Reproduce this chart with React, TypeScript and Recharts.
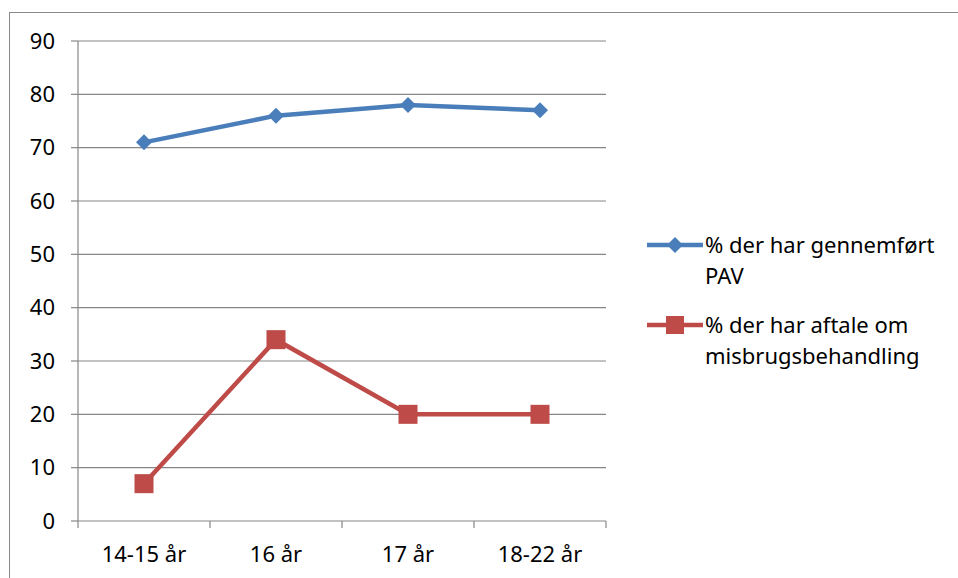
import { LineChart, Line, XAxis, YAxis, CartesianGrid } from "recharts"

const categories = ["14-15 år", "16 år", "17 år", "18-22 år"]
const pavValues = [71, 76, 78, 77]
const behandlingValues = [7, 34, 20, 20]
const yTicks = [0, 10, 20, 30, 40, 50, 60, 70, 80, 90]
const boundaryTicks = [0, 1, 2, 3, 4]

const BLUE = "#4A7EBB"
const RED = "#BE4B48"
const GRID = "#868686"
const FONT = "'Noto Sans', sans-serif"

const data = categories.map((cat, i) => ({
  cat,
  idx: i + 0.5,
  pav: pavValues[i],
  behandling: behandlingValues[i],
}))

const legendItems = [
  { key: "pav", lines: ["% der har gennemført", "PAV"], color: BLUE, shape: "diamond" },
  { key: "behandling", lines: ["% der har aftale om", "misbrugsbehandling"], color: RED, shape: "square" },
]

function Diamond(props: any) {
  const { cx, cy } = props
  if (cx == null || cy == null) return null
  const r = 8
  return (
    <path
      d={`M${cx},${cy - r} L${cx + r},${cy} L${cx},${cy + r} L${cx - r},${cy} Z`}
      fill={BLUE}
    />
  )
}

function Square(props: any) {
  const { cx, cy } = props
  if (cx == null || cy == null) return null
  const s = 19
  return <rect x={cx - s / 2} y={cy - s / 2} width={s} height={s} fill={RED} />
}

function EmptyTick() {
  return <g />
}

function LegendBox() {
  return (
    <div style={{ fontFamily: FONT, fontSize: "22px", color: "#000" }}>
      {legendItems.map((item) => (
        <div key={item.key} style={{ display: "flex", alignItems: "flex-start", marginBottom: "19px" }}>
          <svg width={60} height={30} style={{ flexShrink: 0 }}>
            <line x1={2} y1={15} x2={58} y2={15} stroke={item.color} strokeWidth={4.5} />
            {item.shape === "diamond" ? (
              <path d="M30,7 L38,15 L30,23 L22,15 Z" fill={item.color} />
            ) : (
              <rect x={21} y={6} width={18} height={18} fill={item.color} />
            )}
          </svg>
          <div style={{ lineHeight: "31px", marginTop: "-1px" }}>
            {item.lines.map((l) => (
              <div key={l}>{l}</div>
            ))}
          </div>
        </div>
      ))}
    </div>
  )
}

export default function App() {
  return (
    <div
      style={{
        position: "absolute",
        left: 0,
        top: 0,
        width: 958,
        height: 578,
        overflow: "hidden",
        background: "#fff",
      }}
    >
      <div
        style={{
          position: "absolute",
          left: 9,
          top: 12,
          width: 1000,
          height: 700,
          border: "1.5px solid #8a8a8a",
        }}
      />
      <div style={{ position: "absolute", left: 0, top: 0 }}>
        <LineChart
          width={958}
          height={578}
          data={data}
          margin={{ top: 41, right: 352, bottom: 27, left: 28 }}
        >
          <CartesianGrid vertical={false} stroke={GRID} strokeWidth={1.2} xAxisId="b" />
          {/* tick marks between categories */}
          <XAxis
            xAxisId="a"
            type="number"
            dataKey="idx"
            domain={[0, 4]}
            ticks={boundaryTicks}
            tick={<EmptyTick />}
            tickSize={7}
            stroke={GRID}
            axisLine={false}
            tickLine={{ stroke: GRID, strokeWidth: 1.2 }}
            height={1}
          />
          <XAxis
            dataKey="cat"
            xAxisId="b"
            height={29}
            padding={{ left: 66, right: 66 }}
            tickLine={false}
            axisLine={false}
            interval={0}
            tickMargin={18}
            tick={{ fontFamily: FONT, fontSize: 22, fill: "#000" }}
          />
          <YAxis
            domain={[0, 90]}
            ticks={yTicks}
            width={50}
            tickSize={7}
            tickMargin={16}
            stroke={GRID}
            axisLine={{ stroke: GRID, strokeWidth: 1.2 }}
            tickLine={{ stroke: GRID, strokeWidth: 1.2 }}
            tick={{ fontFamily: FONT, fontSize: 22, fill: "#000" }}
            interval={0}
          />
          <Line
            xAxisId="b"
            dataKey="pav"
            stroke={BLUE}
            strokeWidth={4.5}
            dot={<Diamond />}
            activeDot={false}
            isAnimationActive={false}
          />
          <Line
            xAxisId="b"
            dataKey="behandling"
            stroke={RED}
            strokeWidth={4.5}
            dot={<Square />}
            activeDot={false}
            isAnimationActive={false}
          />
        </LineChart>
      </div>
      <div style={{ position: "absolute", left: 645, top: 230 }}>
        <LegendBox />
      </div>
    </div>
  )
}
